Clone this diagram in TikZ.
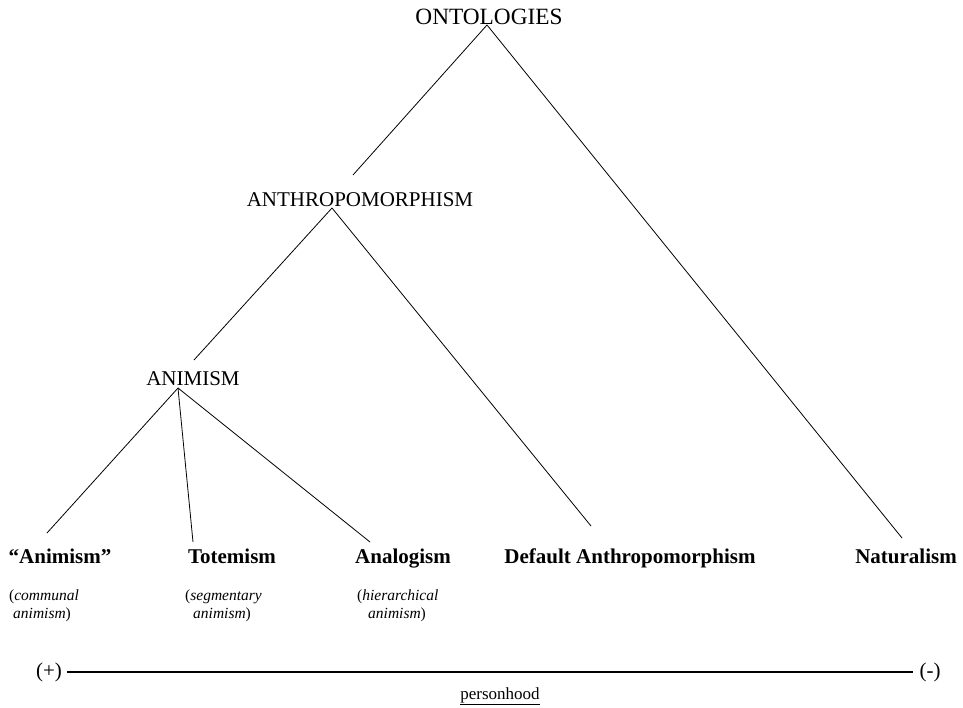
\documentclass[tikz,border=0pt]{standalone}
\usepackage{fontspec}
\setmainfont{Liberation Serif}
\begin{document}
\begin{tikzpicture}[x=1pt,y=-1pt,
  captext/.style={font=\fontsize{21}{24}\selectfont, inner sep=0pt, anchor=base},
  boldtext/.style={font=\fontsize{21}{24}\selectfont\bfseries, inner sep=0pt, anchor=base},
  smalltext/.style={font=\fontsize{15.5}{18}\selectfont, inner sep=0pt, anchor=base west},
  branch/.style={line width=0.8pt},
  scaleline/.style={line width=1.7pt}]
\useasboundingbox (0,0) rectangle (963,708);
% level labels
\node[captext, font=\fontsize{23.3}{26}\selectfont] (ont) at (489,25) {ONTOLOGIES};
\node[captext] (anth) at (360,207) {ANTHROPOMORPHISM};
\node[captext] (anim) at (193,385) {ANIMISM};
% apexes and line ends
\coordinate (ontA) at (487,25);
\coordinate (anthT) at (353,175);
\coordinate (anthA) at (332,208);
\coordinate (animT) at (194,360);
\coordinate (animA) at (178,388);
\coordinate (c1T) at (47,533);
\coordinate (c2T) at (193,542);
\coordinate (c3T) at (370,542);
\coordinate (c4T) at (591,526);
\coordinate (c5T) at (902,538);
% bottom labels
\node[boldtext] (c1) at (60,563) {``Animism''};
\node[boldtext] (c2) at (232,563) {Totemism};
\node[boldtext] (c3) at (403,563) {Analogism};
\node[boldtext] (c4) at (630,563) {Default Anthropomorphism};
\node[boldtext] (c5) at (906,563) {Naturalism};
\node[smalltext] (c1a) at (9,600) {(\textit{communal}};
\node[smalltext] (c1b) at (13,618) {\textit{animism})};
\node[smalltext] (c2a) at (185,600) {(\textit{segmentary}};
\node[smalltext] (c2b) at (193,618) {\textit{animism})};
\node[smalltext] (c3a) at (357,600) {(\textit{hierarchical}};
\node[smalltext] (c3b) at (368,618) {\textit{animism})};
% branches
\draw[branch] (ontA) -- (anthT);
\draw[branch] (ontA) -- (c5T);
\draw[branch] (anthA) -- (animT);
\draw[branch] (anthA) -- (c4T);
\draw[branch] (animA) -- (c1T);
\draw[branch] (animA) -- (c2T);
\draw[branch] (animA) -- (c3T);
% scale
\node[captext, anchor=center] (plus) at (49,672) {(+)};
\node[captext, anchor=center] (minus) at (930,672) {(-)};
\coordinate (sL) at (67,672);
\coordinate (sR) at (913,672);
\draw[scaleline] (sL) -- (sR);
\node[font=\fontsize{17}{20}\selectfont, inner sep=0pt, anchor=base] (person) at (500,699) {\underline{personhood}};
\end{tikzpicture}
\end{document}
